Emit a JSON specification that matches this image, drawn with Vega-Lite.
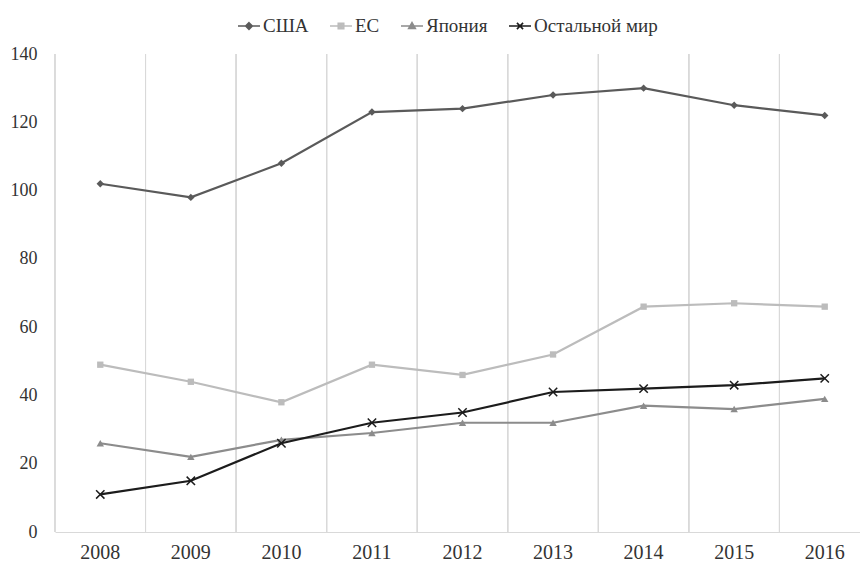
{
  "$schema": "https://vega.github.io/schema/vega-lite/v6.json",
  "autosize": "none",
  "padding": {"left": 55, "top": 54, "right": 0, "bottom": 31},
  "width": 815,
  "height": 478,
  "background": "white",
  "data": {"values": [
    {"year": "2008", "series": "США", "value": 102},
    {"year": "2009", "series": "США", "value": 98},
    {"year": "2010", "series": "США", "value": 108},
    {"year": "2011", "series": "США", "value": 123},
    {"year": "2012", "series": "США", "value": 124},
    {"year": "2013", "series": "США", "value": 128},
    {"year": "2014", "series": "США", "value": 130},
    {"year": "2015", "series": "США", "value": 125},
    {"year": "2016", "series": "США", "value": 122},
    {"year": "2008", "series": "ЕС", "value": 49},
    {"year": "2009", "series": "ЕС", "value": 44},
    {"year": "2010", "series": "ЕС", "value": 38},
    {"year": "2011", "series": "ЕС", "value": 49},
    {"year": "2012", "series": "ЕС", "value": 46},
    {"year": "2013", "series": "ЕС", "value": 52},
    {"year": "2014", "series": "ЕС", "value": 66},
    {"year": "2015", "series": "ЕС", "value": 67},
    {"year": "2016", "series": "ЕС", "value": 66},
    {"year": "2008", "series": "Япония", "value": 26},
    {"year": "2009", "series": "Япония", "value": 22},
    {"year": "2010", "series": "Япония", "value": 27},
    {"year": "2011", "series": "Япония", "value": 29},
    {"year": "2012", "series": "Япония", "value": 32},
    {"year": "2013", "series": "Япония", "value": 32},
    {"year": "2014", "series": "Япония", "value": 37},
    {"year": "2015", "series": "Япония", "value": 36},
    {"year": "2016", "series": "Япония", "value": 39},
    {"year": "2008", "series": "Остальной мир", "value": 11},
    {"year": "2009", "series": "Остальной мир", "value": 15},
    {"year": "2010", "series": "Остальной мир", "value": 26},
    {"year": "2011", "series": "Остальной мир", "value": 32},
    {"year": "2012", "series": "Остальной мир", "value": 35},
    {"year": "2013", "series": "Остальной мир", "value": 41},
    {"year": "2014", "series": "Остальной мир", "value": 42},
    {"year": "2015", "series": "Остальной мир", "value": 43},
    {"year": "2016", "series": "Остальной мир", "value": 45}
  ]},
  "config": {
    "view": {"stroke": null},
    "font": "Liberation Serif",
    "axisX": {"domainColor": "#d9d9d9", "domainWidth": 1, "ticks": false, "grid": false, "labelFont": "Liberation Serif", "labelFontSize": 20, "labelColor": "#333333", "labelPadding": 10, "labelAngle": 0},
    "axisY": {"domain": false, "ticks": false, "grid": false, "labelFont": "Liberation Serif", "labelFontSize": 18, "labelColor": "#333333", "labelPadding": 18},
    "legend": {"labelFont": "Liberation Serif", "labelFontSize": 19, "labelColor": "#333333", "padding": 0}
  },
  "layer": [
    {
      "mark": {"type": "rule", "color": "#d9d9d9", "strokeWidth": 1},
      "encoding": {
        "x": {"field": "year", "type": "ordinal", "title": null, "bandPosition": 0, "scale": {"paddingInner": 0, "paddingOuter": 0}}
      }
    },
    {
      "transform": [{"filter": "datum.series === 'США'"}],
      "encoding": {
        "x": {"field": "year", "type": "ordinal", "title": null},
        "y": {"field": "value", "type": "quantitative", "title": null, "scale": {"domain": [0, 140], "nice": false}, "axis": {"values": [0, 20, 40, 60, 80, 100, 120, 140]}}
      },
      "layer": [
        {"mark": {"type": "line", "strokeWidth": 2.2, "color": "#5a5a5a"}},
        {"mark": {"type": "point", "shape": "diamond", "filled": true, "size": 55, "opacity": 1, "color": "#5a5a5a"}}
      ]
    },
    {
      "transform": [{"filter": "datum.series === 'ЕС'"}],
      "encoding": {
        "x": {"field": "year", "type": "ordinal", "title": null},
        "y": {"field": "value", "type": "quantitative", "title": null}
      },
      "layer": [
        {"mark": {"type": "line", "strokeWidth": 2.2, "color": "#bcbcbc"}},
        {"mark": {"type": "point", "shape": "square", "filled": true, "size": 40, "opacity": 1, "color": "#bcbcbc"}}
      ]
    },
    {
      "transform": [{"filter": "datum.series === 'Япония'"}],
      "encoding": {
        "x": {"field": "year", "type": "ordinal", "title": null},
        "y": {"field": "value", "type": "quantitative", "title": null}
      },
      "layer": [
        {"mark": {"type": "line", "strokeWidth": 2.2, "color": "#8c8c8c"}},
        {"mark": {"type": "point", "shape": "triangle-up", "filled": true, "size": 55, "opacity": 1, "color": "#8c8c8c"}}
      ]
    },
    {
      "transform": [{"filter": "datum.series === 'Остальной мир'"}],
      "encoding": {
        "x": {"field": "year", "type": "ordinal", "title": null},
        "y": {"field": "value", "type": "quantitative", "title": null}
      },
      "layer": [
        {"mark": {"type": "line", "strokeWidth": 2.2, "color": "#1c1c1c"}},
        {"mark": {"type": "point", "shape": "M-1,-1L1,1M1,-1L-1,1", "filled": false, "size": 70, "strokeWidth": 1.5, "opacity": 1, "color": "#1c1c1c"}}
      ]
    },
    {
      "mark": {"type": "point", "filled": false, "opacity": 0.001, "size": 10},
      "encoding": {
        "x": {"field": "year", "type": "ordinal", "title": null},
        "y": {"field": "value", "type": "quantitative", "title": null},
        "color": {"field": "series", "type": "nominal",
          "scale": {"domain": ["США", "ЕС", "Япония", "Остальной мир"], "range": ["#5a5a5a", "#bcbcbc", "#8c8c8c", "#1c1c1c"]},
          "legend": {"orient": "none", "legendX": 182, "legendY": -40, "title": null, "direction": "horizontal", "symbolSize": 484, "symbolStrokeWidth": 1.6, "symbolOpacity": 1, "labelOffset": 2, "columnPadding": 17}},
        "shape": {"field": "series", "type": "nominal",
          "scale": {"domain": ["США", "ЕС", "Япония", "Остальной мир"], "range": [
            "M-1,0H1M0,-0.3L0.3,0L0,0.3L-0.3,0ZM0,-0.15L0.15,0L0,0.15L-0.15,0Z",
            "M-1,0H1M-0.25,-0.25H0.25V0.25H-0.25ZM-0.1,-0.1H0.1V0.1H-0.1Z",
            "M-1,0H1M0,-0.3L0.3,0.22H-0.3ZM0,-0.12L0.13,0.12H-0.13Z",
            "M-1,0H1M-0.28,-0.28L0.28,0.28M0.28,-0.28L-0.28,0.28"
          ]},
          "legend": {"orient": "none", "legendX": 182, "legendY": -40, "title": null, "direction": "horizontal", "symbolSize": 484, "symbolStrokeWidth": 1.6, "symbolOpacity": 1, "labelOffset": 2, "columnPadding": 17}}
      }
    }
  ]
}
